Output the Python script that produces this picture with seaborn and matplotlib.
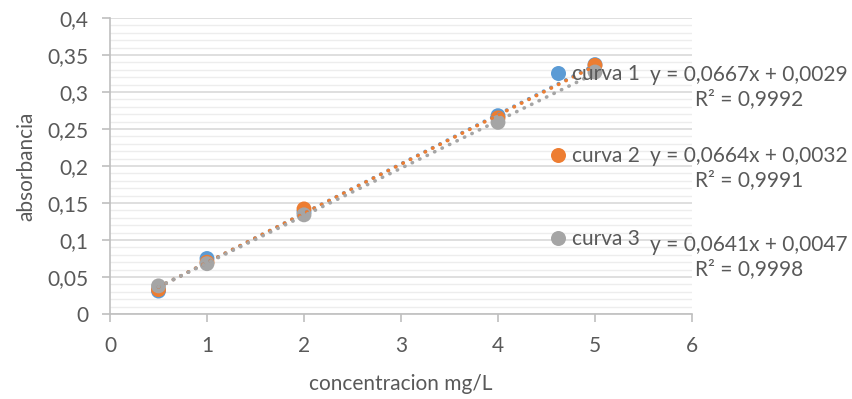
import numpy as np
import pandas as pd
import seaborn as sns
import matplotlib
matplotlib.use("Agg")
import matplotlib.pyplot as plt
from matplotlib.ticker import MultipleLocator, FuncFormatter
from matplotlib.lines import Line2D

# Calibration data: concentration (mg/L) vs absorbance for three curves
concentracion = [0.5, 1, 2, 4, 5]
curva_1 = [0.031, 0.075, 0.138, 0.268, 0.337]
curva_2 = [0.033, 0.070, 0.142, 0.265, 0.336]
curva_3 = [0.038, 0.068, 0.134, 0.259, 0.327]
series_names = ["curva 1", "curva 2", "curva 3"]

# Linear trendline coefficients and R² for each curve
slopes = [0.0667, 0.0664, 0.0641]
intercepts = [0.0029, 0.0032, 0.0047]
r2_values = [0.9992, 0.9991, 0.9998]

colors = ["#5B9BD5", "#ED7D31", "#A5A5A5"]
text_color = "#595959"
FS = 15

df = pd.DataFrame({
    "concentracion": concentracion * 3,
    "absorbancia": curva_1 + curva_2 + curva_3,
    "serie": sum([[n] * len(concentracion) for n in series_names], []),
})

sns.set_theme(style="white")
plt.rcParams["font.family"] = ["Lato", "DejaVu Sans"]

W, H = 853, 399
fig = plt.figure(figsize=(W / 100, H / 100), dpi=100)
ax = fig.add_axes([110 / W, 1 - 314 / H, (692 - 110) / W, (314 - 18) / H])

def comma(v, pos):
    s = f"{v:.2f}".rstrip("0").rstrip(".")
    return s.replace(".", ",")

ax.set_xlim(0, 6)
ax.set_ylim(0, 0.4)
ax.xaxis.set_major_locator(MultipleLocator(1))
ax.yaxis.set_major_locator(MultipleLocator(0.05))
ax.yaxis.set_minor_locator(MultipleLocator(0.01))
ax.yaxis.set_major_formatter(FuncFormatter(comma))
ax.xaxis.set_major_formatter(FuncFormatter(lambda v, p: f"{int(v)}"))

ax.grid(axis="y", which="minor", color="#EDEDED", linewidth=1.0, zorder=0)
ax.grid(axis="y", which="major", color="#D9D9D9", linewidth=1.2, zorder=0)
ax.grid(axis="x", which="both", visible=False)
ax.set_axisbelow(True)

sns.scatterplot(data=df, x="concentracion", y="absorbancia", hue="serie",
                palette=colors, hue_order=series_names, s=115,
                edgecolor="none", legend=False, ax=ax, zorder=3)

# Dotted linear trendlines over the measured range
xs = np.linspace(min(concentracion), max(concentracion), 50)
for m, b, c in zip(slopes, intercepts, colors):
    ax.plot(xs, m * xs + b, linestyle=(0, (0.1, 2.2)), dash_capstyle="round",
            color=c, linewidth=2.6, zorder=4)

for side in ["top", "right"]:
    ax.spines[side].set_visible(False)
for side in ["left", "bottom"]:
    ax.spines[side].set_color("#BFBFBF")
    ax.spines[side].set_linewidth(1.2)
ax.tick_params(axis="both", which="major", direction="out", length=5.5,
               color="#BFBFBF", width=1.2, labelcolor=text_color,
               labelsize=FS, left=True, bottom=True)
ax.tick_params(axis="y", which="major", pad=10)
ax.tick_params(axis="x", which="major", pad=10.5)
ax.tick_params(axis="y", which="minor", left=False)

ax.set_xlabel("concentracion mg/L", fontsize=FS, color=text_color, labelpad=12.5)
ax.set_ylabel("absorbancia", fontsize=FS, color=text_color, labelpad=8)

handles = [Line2D([], [], marker="o", linestyle="none", markersize=10.8,
                  markerfacecolor=c, markeredgecolor="none") for c in colors]
leg = ax.legend(handles, series_names, loc="upper left",
                bbox_to_anchor=(548 / W, 1 - 64 / H), bbox_transform=fig.transFigure,
                frameon=False, fontsize=FS, labelspacing=3.0,
                handletextpad=0.15, handlelength=1.0, borderpad=0,
                borderaxespad=0)
for t in leg.get_texts():
    t.set_color(text_color)

# Trendline equation labels
label_y = [87, 168, 257]
for m, b, r2, yy in zip(slopes, intercepts, r2_values, label_y):
    eq = f"y = {m:.4f}x + {b:.4f}".replace(".", ",")
    rr = f"R² = {r2:.4f}".replace(".", ",")
    fig.text(749 / W, 1 - yy / H, eq + "\n" + rr, ha="center", va="center",
             multialignment="center", fontsize=FS, color=text_color,
             linespacing=1.25)

fig.savefig("out.png", dpi=100)
